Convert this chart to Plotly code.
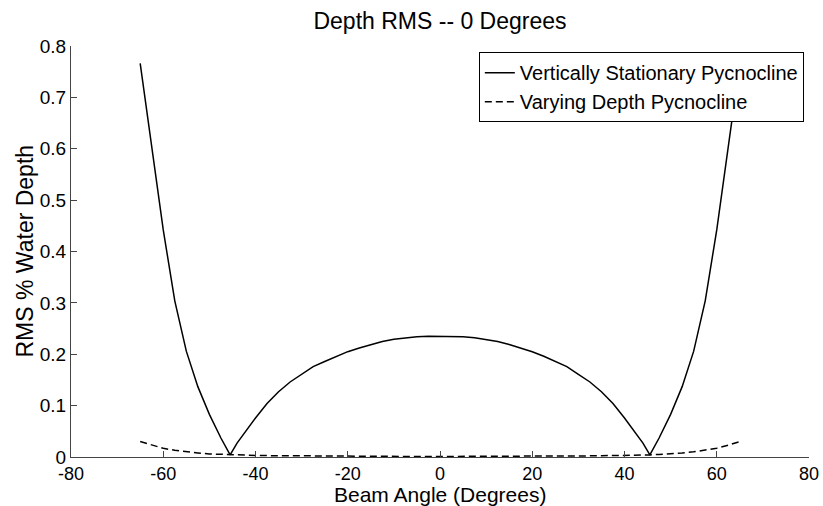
import plotly.graph_objects as go

angle = [-65, -62.5, -60, -57.5, -55, -52.5, -50, -47.5, -45.5,
         -44, -42, -40, -37.5, -35, -32.5, -30, -27.5, -25, -22.5, -20, -17.5, -15, -12.5,
         -10, -7.5, -5, -2.5, 0, 2.5, 5, 7.5, 10, 12.5, 15, 17.5, 20, 22.5, 25, 27.5, 30,
         32.5, 35, 37.5, 40, 42, 44,
         45.5, 47.5, 50, 52.5, 55, 57.5, 60, 62.5, 65]
stationary = [0.766, 0.604, 0.442, 0.304, 0.206, 0.137, 0.083, 0.037, 0.004,
              0.027, 0.052, 0.076, 0.104, 0.127, 0.146, 0.161, 0.176, 0.186, 0.196, 0.205,
              0.212, 0.219, 0.225, 0.229, 0.232, 0.234, 0.235, 0.235, 0.235, 0.234, 0.232,
              0.229, 0.225, 0.219, 0.212, 0.205, 0.196, 0.186, 0.176, 0.161, 0.146, 0.127,
              0.104, 0.076, 0.052, 0.027,
              0.004, 0.037, 0.083, 0.137, 0.206, 0.304, 0.442, 0.604, 0.766]
varying = [0.030, 0.023, 0.017, 0.013, 0.010, 0.008, 0.006, 0.005, 0.004,
           0.0035, 0.003, 0.003, 0.0027, 0.0025, 0.0022, 0.002, 0.0018, 0.0015, 0.0013, 0.001,
           0.001, 0.001, 0.001, 0.001, 0.001, 0.001, 0.001, 0.001, 0.001, 0.001, 0.001,
           0.001, 0.001, 0.001, 0.001, 0.001, 0.0013, 0.0015, 0.0018, 0.002, 0.0022, 0.0025,
           0.0027, 0.003, 0.003, 0.0035,
           0.004, 0.005, 0.006, 0.008, 0.010, 0.013, 0.017, 0.023, 0.030]

xticks = [-80, -60, -40, -20, 0, 20, 40, 60, 80]
yticks = [0, 0.1, 0.2, 0.3, 0.4, 0.5, 0.6, 0.7, 0.8]
yticklabels = ["0", "0.1", "0.2", "0.3", "0.4", "0.5", "0.6", "0.7", "0.8"]

font = "Liberation Sans, Arial, sans-serif"
W, H = 823, 506
L, R, T, B = 71, 14, 46, 49

fig = go.Figure()
fig.add_trace(go.Scatter(x=angle, y=stationary, mode="lines", name="Vertically Stationary Pycnocline",
                         line=dict(color="black", width=1.5)))
fig.add_trace(go.Scatter(x=angle, y=varying, mode="lines", name="Varying Depth Pycnocline",
                         line=dict(color="black", width=1.5, dash="7px,4px")))

fig.update_layout(
    width=W, height=H,
    margin=dict(l=L, r=R, t=T, b=B, autoexpand=False),
    paper_bgcolor="white", plot_bgcolor="white",
    font=dict(family=font, size=19, color="black"),
    title=dict(text="Depth RMS -- 0 Degrees", x=(L + 369) / W, xanchor="center",
               y=1 - 21 / H, yanchor="middle", font=dict(size=23)),
    showlegend=True,
    legend=dict(x=0.993, y=0.985, xanchor="right", yanchor="top", bgcolor="white",
                bordercolor="black", borderwidth=1, font=dict(size=20),
                tracegroupgap=0, itemwidth=30),
    annotations=[
        dict(text="Beam Angle (Degrees)", xref="paper", yref="paper",
             x=0.5, y=-(494 - (H - B)) / (H - T - B), xanchor="center", yanchor="middle",
             showarrow=False, font=dict(size=21)),
        dict(text="RMS % Water Depth", xref="paper", yref="paper", textangle=-90,
             x=-(L - 24) / (W - L - R), y=0.5, xanchor="center", yanchor="middle",
             showarrow=False, font=dict(size=23)),
    ],
)
fig.update_xaxes(range=[-80, 80], tickvals=xticks, ticktext=[str(v) for v in xticks],
                 ticks="inside", ticklen=6, tickcolor="#444", showline=True, linecolor="#444",
                 linewidth=1, showgrid=False, zeroline=False, mirror=False, automargin=False,
                 tickfont=dict(size=18))
fig.update_yaxes(range=[0, 0.8], tickvals=yticks, ticktext=yticklabels,
                 ticks="inside", ticklen=6, tickcolor="#444", showline=True, linecolor="#444",
                 linewidth=1, showgrid=False, zeroline=False, mirror=False, automargin=False,
                 tickfont=dict(size=19))

fig.write_html("out.html", config={"displayModeBar": False},
               post_script="document.body.style.margin='0';document.body.style.padding='0';")
